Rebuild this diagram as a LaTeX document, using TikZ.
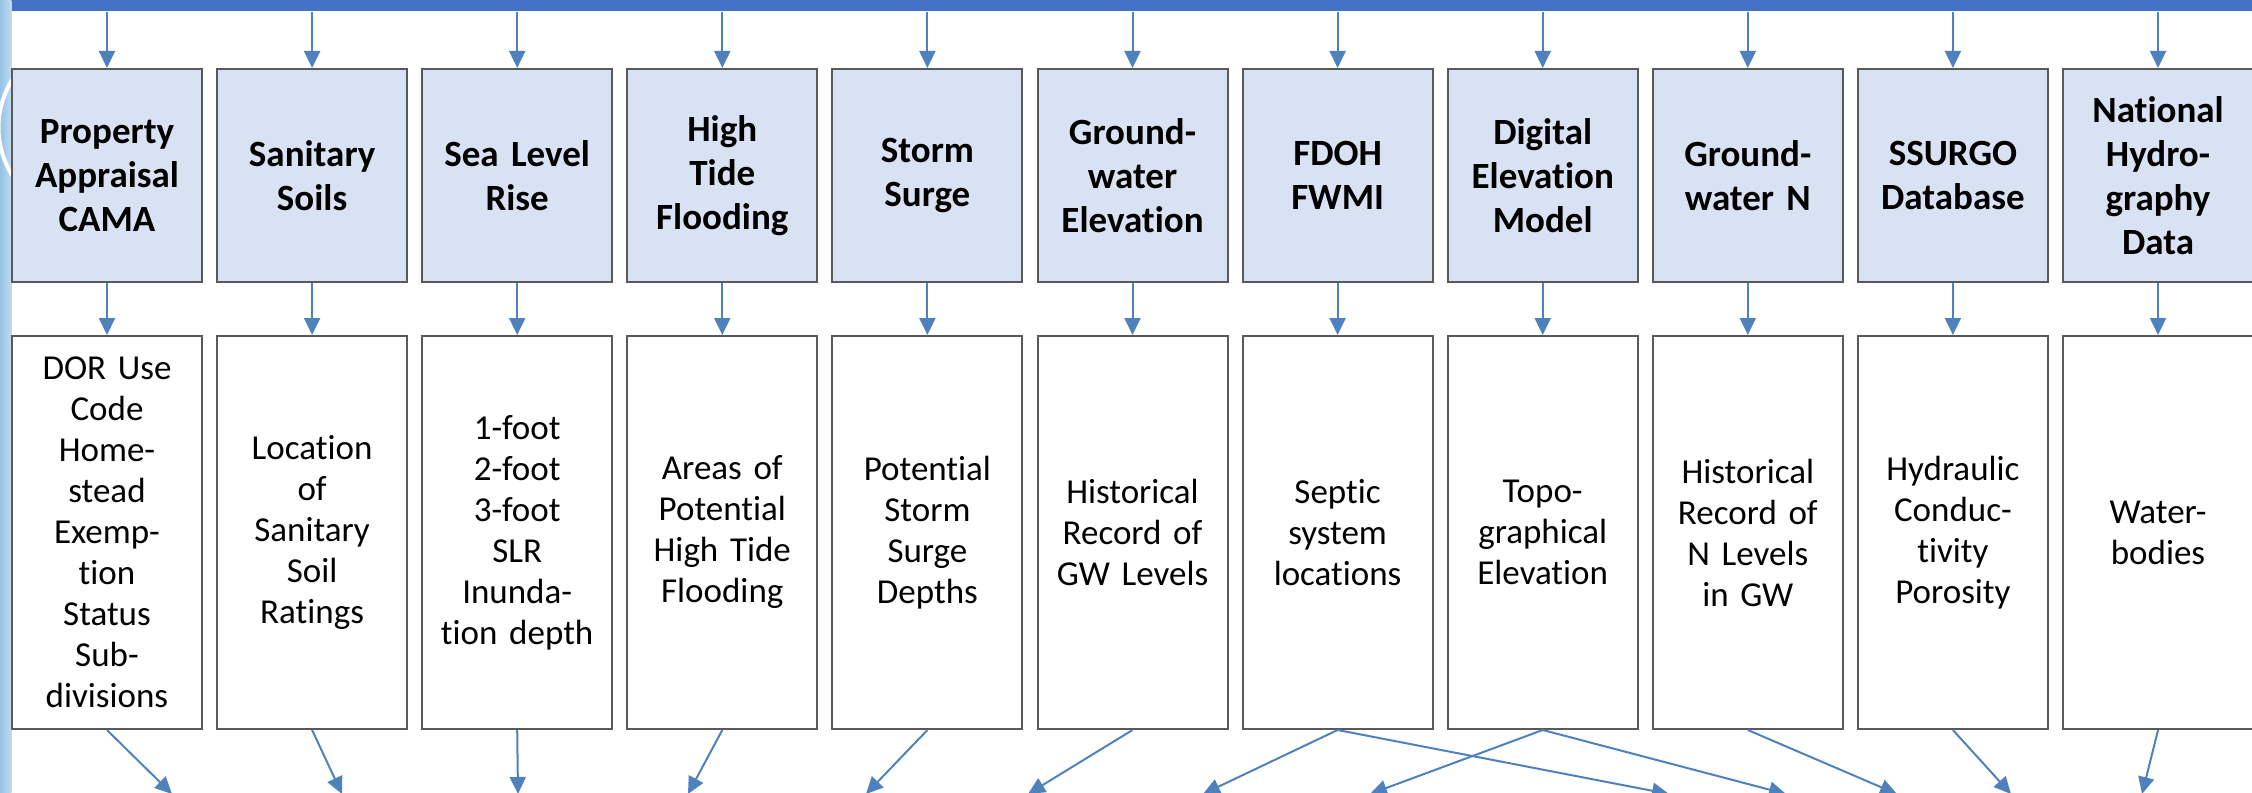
\documentclass[tikz,border=0pt]{standalone}
\usepackage{fontspec}
\setmainfont{Carlito}[RawFeature={-liga;-clig;-calt;-dlig}]
\usepackage{tikz}
\usetikzlibrary{arrows.meta}
\definecolor{barblue}{RGB}{68,114,196}
\definecolor{linkblue}{RGB}{79,129,189}
\definecolor{boxfill}{RGB}{217,226,242}
\definecolor{boxline}{RGB}{89,89,89}
\definecolor{stripblue}{RGB}{150,195,228}
\tikzset{
  srcbox/.style={draw=boxline, line width=1pt, fill=boxfill, inner sep=0pt,
    minimum width=95pt, minimum height=106.5pt, text width=92pt, align=center,
    font=\bfseries\fontsize{18.5}{22}\selectfont},
  lyrbox/.style={srcbox, fill=white, minimum height=196.5pt,
    font=\fontsize{17.5}{20.5}\selectfont},
  link/.style={draw=linkblue, line width=1pt, -{Triangle[length=8.5pt,width=8pt]}}
}

\begin{document}
\begin{tikzpicture}[x=0.5pt,y=-0.5pt]
\useasboundingbox (0,0) rectangle (2252,792);
\clip (0,0) rectangle (2252,792);
% left strip of the slide
\fill[left color=stripblue, right color=stripblue!60] (0,0) rectangle (11.5,792);
\draw[white, line width=2pt] (12,80) .. controls (-6,110) and (-6,145) .. (12,175);
\node[fill=barblue, inner sep=0pt, minimum width=1121pt, minimum height=5.5pt, anchor=north west] (bar) at (11.5,0) {};
\foreach \i/\nm/\src/\lyr in {
 0/pa/{Property\\Appraisal\\CAMA}/{DOR Use\\Code\\Home-\\stead\\Exemp-\\tion\\Status\\Sub-\\divisions},
 1/ss/{Sanitary\\Soils}/{Location\\of\\Sanitary\\Soil\\Ratings},
 2/slr/{Sea Level\\Rise}/{1-foot\\2-foot\\3-foot\\SLR\\Inunda-\\tion depth},
 3/htf/{High\\Tide\\Flooding}/{Areas of\\Potential\\High Tide\\Flooding},
 4/surge/{Storm\\Surge}/{Potential\\Storm\\Surge\\Depths},
 5/gwe/{Ground-\\water\\Elevation}/{Historical\\Record of\\GW Levels},
 6/fdoh/{FDOH\\FWMI}/{Septic\\system\\locations},
 7/dem/{Digital\\Elevation\\Model}/{Topo-\\graphical\\Elevation},
 8/gwn/{Ground-\\water N}/{Historical\\Record of\\N Levels\\in GW},
 9/ssurgo/{SSURGO\\Database}/{Hydraulic\\Conduc-\\tivity\\Porosity},
 10/nhd/{National\\Hydro-\\graphy\\Data}/{Water-\\bodies}}{
 \node[srcbox] (\nm) at ({107+205.1*\i},175.5) {\src};
 \node[lyrbox] (\nm-lyr) at ({107+205.1*\i},532.5) {\lyr};
 \draw[link] (bar.south -| \nm) -- (\nm);
 \draw[link] (\nm) -- (\nm-lyr);
}
% arrows leaving the bottom edge
\foreach \nm/\tx in {pa/172, ss/342, slr/518, htf/688, surge/866, gwe/1028,
  fdoh/1203, dem/1370, fdoh/1669, dem/1786, gwn/1897, ssurgo/2011, nhd/2142}{
 \coordinate (out\tx) at (\tx,794);
 \draw[link] (\nm-lyr.south) -- (out\tx);
}
\end{tikzpicture}
\end{document}
